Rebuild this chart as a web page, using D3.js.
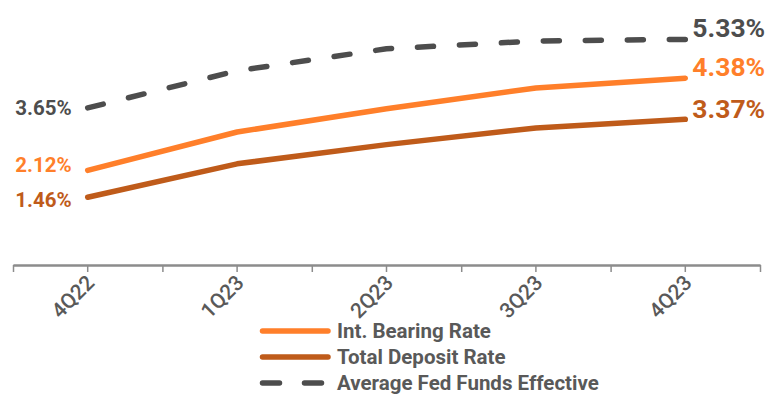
<!DOCTYPE html>
<html>
<head>
<meta charset="utf-8">
<script src="https://cdn.jsdelivr.net/npm/d3@7"></script>
<style>
  html, body { margin: 0; padding: 0; background: #fff; }
  svg { display: block; font-family: Roboto, "Noto Sans", sans-serif; }
</style>
</head>
<body>
<svg id="chart" width="767" height="396"></svg>
<script>
// ---- data ----
const categories = ["4Q22", "1Q23", "2Q23", "3Q23", "4Q23"];
const intBearingRate = [2.12, 3.06, 3.63, 4.14, 4.38];
const totalDepositRate = [1.46, 2.28, 2.75, 3.16, 3.37];
const avgFedFunds = [3.65, 4.56, 5.10, 5.29, 5.33];
const seriesNames = ["Int. Bearing Rate", "Total Deposit Rate", "Average Fed Funds Effective"];

// ---- styles ----
const colors = ["#FF7F2A", "#BF5B1A", "#4D4D4D"];
const dashes = [null, null, "16,26"];
const startLabelDy = [-6, 3, 0];
const endLabelDy = [-11, -11, -12];

const series = [intBearingRate, totalDepositRate, avgFedFunds].map((values, i) => ({
  name: seriesNames[i], values, color: colors[i], dash: dashes[i],
  sdy: startLabelDy[i], edy: endLabelDy[i]
}));

const svg = d3.select("#chart");
const axisY = 265;

const x = d3.scaleBand().domain(categories).range([13, 760]).padding(0);
const xEdges = d3.scaleLinear().domain([0, categories.length]).range([13, 760]);
const y = d3.scaleLinear().domain([-0.2, 5.5]).range([axisY, axisY - 5.7 * 40.8]);
const cx = c => x(c) + x.bandwidth() / 2;

// ---- x axis ----
const gEdge = svg.append("g").attr("transform", `translate(0,${axisY})`)
  .call(d3.axisBottom(xEdges).tickValues(d3.range(0, categories.length + 1)).tickFormat("").tickSize(7).tickSizeOuter(0));
const gAx = svg.append("g").attr("transform", `translate(0,${axisY})`)
  .call(d3.axisBottom(x).tickSize(7).tickSizeOuter(0));
[gEdge, gAx].forEach(g => {
  g.selectAll("path.domain").attr("stroke", "#8C8C8C").attr("stroke-width", 2);
  g.selectAll(".tick line").attr("stroke", "#8C8C8C").attr("stroke-width", 1.5);
});
gAx.selectAll(".tick text")
  .attr("fill", "#595959")
  .style("font-size", "21px")
  .style("font-weight", "500")
  .style("font-family", "Roboto, sans-serif")
  .attr("text-anchor", "end")
  .attr("dy", null).attr("y", null)
  .attr("transform", "translate(8,19) rotate(-45)");

// ---- lines ----
const line = d3.line()
  .x((d, i) => cx(categories[i]))
  .y(d => y(d));

svg.append("g").selectAll("path.series")
  .data(series.slice().reverse())
  .join("path")
  .attr("class", "series")
  .attr("d", d => line(d.values))
  .attr("fill", "none")
  .attr("stroke", d => d.color)
  .attr("stroke-width", 5.5)
  .attr("stroke-linecap", "round")
  .attr("stroke-linejoin", "round")
  .attr("stroke-dasharray", d => d.dash);

// ---- value labels ----
const first = categories[0], last = categories[categories.length - 1];
svg.append("g").selectAll("text")
  .data(series)
  .join("text")
  .attr("x", cx(first) - 16)
  .attr("y", d => y(d.values[0]) + d.sdy)
  .attr("dy", "0.35em")
  .attr("text-anchor", "end")
  .attr("fill", d => d.color)
  .style("font-size", "20.5px")
  .style("font-weight", "bold")
  .text(d => d.values[0].toFixed(2) + "%");

svg.append("g").selectAll("text")
  .data(series)
  .join("text")
  .attr("x", cx(last) + 7)
  .attr("y", d => y(d.values[d.values.length - 1]) + d.edy)
  .attr("dy", "0.35em")
  .attr("text-anchor", "start")
  .attr("fill", d => d.color)
  .style("font-size", "26.5px")
  .style("font-weight", "bold")
  .text(d => d.values[d.values.length - 1].toFixed(2) + "%");

// ---- legend ----
const legend = svg.append("g").attr("transform", "translate(260,331)");
const rows = legend.selectAll("g").data(series).join("g")
  .attr("transform", (d, i) => `translate(0,${i * 26})`);
rows.append("line")
  .attr("x1", 2.5).attr("x2", 68).attr("y1", 0).attr("y2", 0)
  .attr("stroke", d => d.color)
  .attr("stroke-width", 5.5)
  .attr("stroke-linecap", "round")
  .attr("stroke-dasharray", d => d.dash ? "17,25" : null);
rows.append("text")
  .attr("x", 77).attr("y", 0).attr("dy", "0.35em")
  .attr("fill", "#595959")
  .style("font-size", "20.5px")
  .style("font-weight", "bold")
  .text(d => d.name);
</script>
</body>
</html>
